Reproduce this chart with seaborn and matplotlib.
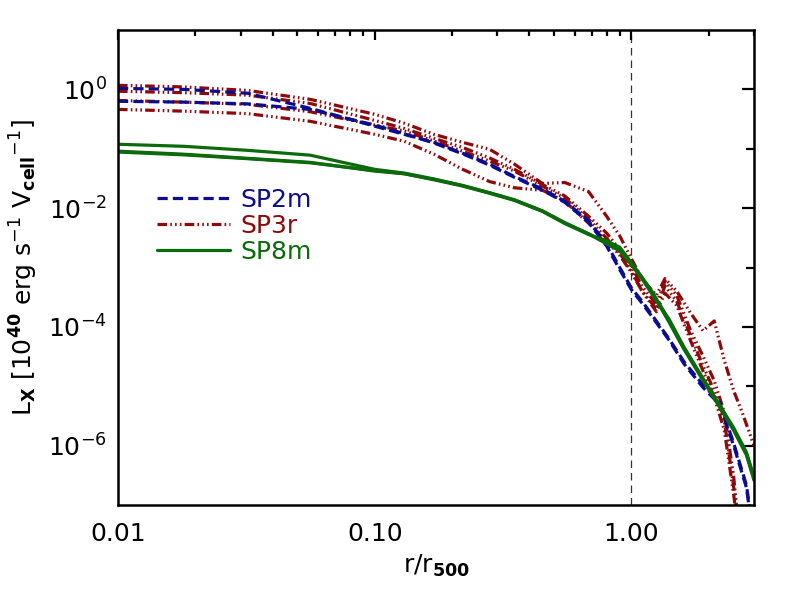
import matplotlib
matplotlib.use("Agg")
import matplotlib.pyplot as plt
from matplotlib.lines import Line2D
from matplotlib.ticker import FixedLocator, FixedFormatter, NullFormatter
import seaborn as sns
import numpy as np

# ---- data ----
x_bg = [0.010, 0.018, 0.032, 0.056, 0.10, 0.13, 0.17, 0.22, 0.28, 0.35, 0.45, 0.55,
        0.68, 0.80, 0.90, 1.0, 1.1, 1.2, 1.4, 1.6, 1.9, 2.2, 2.5, 2.8, 3.0]

sp2m_a = [1.04, 1.00, 0.86, 0.48, 0.24, 0.175, 0.128, 0.084, 0.055, 0.034, 0.021, 0.013,
          0.0061, 0.0025, 0.00100, 0.00045, 0.00027, 0.00016, 6.3e-5, 2.6e-5, 1.05e-5,
          5.5e-6, 1.1e-6, 2.2e-7, 3e-8]
sp2m_b = [0.63, 0.61, 0.57, 0.46, 0.25, 0.18, 0.125, 0.082, 0.053, 0.033, 0.020, 0.0125,
          0.0058, 0.0023, 0.00092, 0.00042, 0.00025, 0.000150, 6.0e-5, 2.4e-5, 9.5e-6,
          5.0e-6, 1.0e-6, 2.0e-7, 2.5e-8]

sp8m_a = [0.119, 0.110, 0.094, 0.078, 0.045, 0.039, 0.031, 0.024, 0.018, 0.0137, 0.0089,
          0.0056, 0.0037, 0.0026, 0.0020, 0.00115, 0.00067, 0.00040, 0.000130, 4.4e-5,
          1.3e-5, 4.7e-6, 1.9e-6, 7.5e-7, 2.8e-7]
sp8m_b = [0.091, 0.081, 0.069, 0.059, 0.042, 0.038, 0.030, 0.0235, 0.0178, 0.0135, 0.0088,
          0.0055, 0.0036, 0.0028, 0.0022, 0.0012, 0.00068, 0.00038, 0.000120, 4.2e-5,
          1.25e-5, 4.5e-6, 1.8e-6, 7.0e-7, 2.6e-7]
sp8m_c = [0.088, 0.079, 0.068, 0.058, 0.043, 0.038, 0.0305, 0.024, 0.0182, 0.0138, 0.0090,
          0.0057, 0.0037, 0.0025, 0.0019, 0.00110, 0.00064, 0.00036, 0.000135, 4.6e-5,
          1.35e-5, 4.9e-6, 2.0e-6, 7.8e-7, 3.0e-7]

x_red = [0.010, 0.018, 0.032, 0.056, 0.10, 0.13, 0.17, 0.22, 0.28, 0.35, 0.45, 0.55,
         0.68, 0.80, 0.90, 1.0, 1.1, 1.25, 1.35, 1.5, 1.7, 1.9, 2.1, 2.3, 2.5, 2.7, 3.0]

sp3r_a = [1.17, 1.10, 0.96, 0.68, 0.38, 0.27, 0.175, 0.128, 0.098, 0.055, 0.026, 0.027,
          0.019, 0.0073, 0.0034, 0.00139, 0.00064, 0.00034, 0.00065, 0.00040, 0.00017,
          8.6e-5, 1.26e-4, 2.7e-5, 8.4e-6, 3.6e-6, 1.0e-6]
sp3r_b = [0.93, 0.88, 0.80, 0.58, 0.30, 0.22, 0.15, 0.105, 0.070, 0.045, 0.025, 0.016,
          0.0073, 0.0038, 0.0020, 0.00105, 0.00048, 0.00024, 0.00059, 0.00034, 8.6e-5,
          3.2e-5, 1.24e-5, 3.6e-6, 3e-7, 1e-8, 1e-9]
sp3r_c = [0.65, 0.61, 0.56, 0.42, 0.25, 0.20, 0.135, 0.091, 0.062, 0.042, 0.0235, 0.0147,
          0.0065, 0.0031, 0.00175, 0.00087, 0.00040, 0.00020, 0.00049, 0.00027, 7.0e-5,
          2.2e-5, 8.4e-6, 2.6e-6, 2e-7, 1e-8, 1e-9]
sp3r_d = [0.46, 0.43, 0.39, 0.29, 0.175, 0.134, 0.081, 0.045, 0.028, 0.022, 0.020, 0.013,
          0.0056, 0.0028, 0.0016, 0.00082, 0.00040, 0.00018, 0.00037, 0.00023, 5.8e-5,
          1.8e-5, 6.6e-6, 1.8e-6, 1.5e-7, 1e-8, 1e-9]

labels = ["SP2m", "SP3r", "SP8m"]
x_major = [0.01, 0.1, 1.0]
x_major_labels = ["0.01", "0.10", "1.00"]
y_major = [1e-6, 1e-4, 1e-2, 1e0]
y_major_labels = [r"$10^{-6}$", r"$10^{-4}$", r"$10^{-2}$", r"$10^{0}$"]
y_minor = [1e-5, 1e-3, 1e-1]
r500_line = 1.0

# ---- style ----
sns.set_style("white")
plt.rcParams["font.family"] = ["DejaVu Sans"]
plt.rcParams["mathtext.fontset"] = "dejavusans"
plt.rcParams["text.color"] = "black"
plt.rcParams["axes.labelcolor"] = "black"
plt.rcParams["xtick.color"] = "black"
plt.rcParams["ytick.color"] = "black"

BLUE = "#0c0c8e"
RED = "#8e0a0a"
GREEN = "#0b6a0b"
LW = 2.3
ls_blue = (0, (3.2, 1.6))
ls_red = (0, (3.0, 1.0, 0.5, 1.0, 0.5, 1.0, 0.5, 1.0))
ls_green = "-"

fig = plt.figure(figsize=(7.93, 5.95), dpi=100)
ax = fig.add_axes([118 / 793, 90 / 595, (754 - 118) / 793, (505 - 30) / 595])

def draw(x, y, color, ls):
    sns.lineplot(x=x, y=y, ax=ax, color=color, lw=LW, estimator=None, sort=False)
    ax.lines[-1].set_linestyle(ls)

for yy in [sp3r_a, sp3r_b, sp3r_c, sp3r_d]:
    draw(x_red, yy, RED, ls_red)
for yy in [sp2m_a, sp2m_b]:
    draw(x_bg, yy, BLUE, ls_blue)
for yy in [sp8m_a, sp8m_b, sp8m_c]:
    draw(x_bg, yy, GREEN, ls_green)

ax.axvline(r500_line, color="#333333", lw=0.9, ls=(0, (6, 4)), zorder=0)

ax.set_xscale("log")
ax.set_yscale("log")
ax.set_xlim(0.01, 3.0)
ax.set_ylim(1e-7, 1e1)

ax.xaxis.set_major_locator(FixedLocator(x_major))
ax.xaxis.set_major_formatter(FixedFormatter(x_major_labels))
minors = [m * d for d in [0.01, 0.1, 1.0] for m in range(2, 10) if m * d <= 3.0]
ax.xaxis.set_minor_locator(FixedLocator(minors))
ax.xaxis.set_minor_formatter(NullFormatter())
ax.yaxis.set_major_locator(FixedLocator(y_major))
ax.yaxis.set_major_formatter(FixedFormatter(y_major_labels))
ax.yaxis.set_minor_locator(FixedLocator(y_minor))
ax.yaxis.set_minor_formatter(NullFormatter())

for s in ax.spines.values():
    s.set_linewidth(1.8)
    s.set_color("black")

ax.tick_params(axis="both", which="both", direction="in", top=True, right=True,
               colors="black", labelcolor="black", width=1.6, labelsize=18)
ax.tick_params(axis="x", which="major", length=7.5, pad=12)
ax.tick_params(axis="x", which="minor", length=4)
ax.tick_params(axis="y", which="major", length=9, pad=8)
ax.tick_params(axis="y", which="minor", length=6)

ax.set_xlabel(r"r/r$_{\mathbf{500}}$", fontsize=18, labelpad=5, color="black")
ax.set_ylabel(r"L$_\mathbf{X}$ [10$^{\mathbf{40}}$ erg s$^{-1}$ V$_{\mathbf{cell}}$$^{-1}$]",
              fontsize=18, labelpad=6, color="black")

handles = [Line2D([], [], color=BLUE, lw=LW, ls=ls_blue),
           Line2D([], [], color=RED, lw=LW, ls=ls_red),
           Line2D([], [], color=GREEN, lw=LW, ls=ls_green)]
leg = fig.legend(handles, labels, loc="center left", bbox_to_anchor=(157 / 793, 1 - 226 / 595),
                 bbox_transform=fig.transFigure, frameon=False, fontsize=18,
                 handlelength=2.9, handletextpad=0.45, labelspacing=0.08,
                 borderpad=0, borderaxespad=0)
for t, c in zip(leg.get_texts(), [BLUE, RED, GREEN]):
    t.set_color(c)

fig.savefig("out.png", dpi=100)
